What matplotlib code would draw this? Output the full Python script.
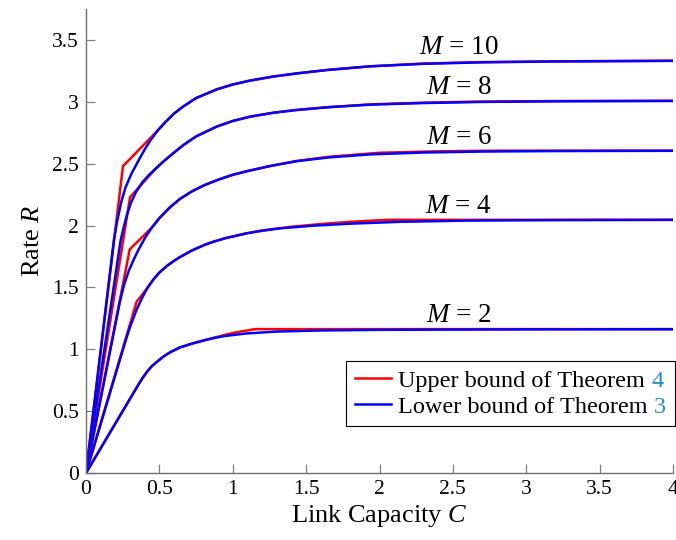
import matplotlib
matplotlib.use('Agg')
import matplotlib.pyplot as plt
from matplotlib.transforms import IdentityTransform

plt.rcParams['font.family'] = ['Liberation Serif', 'DejaVu Serif']
plt.rcParams['mathtext.fontset'] = 'custom'
plt.rcParams['mathtext.rm'] = 'Liberation Serif'
plt.rcParams['mathtext.it'] = 'Liberation Serif:italic'

# lower bound (blue) curves
lo_x_10 = [0, 0.19, 0.21, 0.24, 0.27, 0.31, 0.36, 0.40, 0.44, 0.49, 0.54, 0.60, 0.66, 0.75, 0.89,
           1.0, 1.12, 1.28, 1.44, 1.65, 1.94, 2.3, 2.7, 3.2, 4.0]
lo_y_10 = [0, 1.88, 2.02, 2.19, 2.31, 2.42, 2.53, 2.615, 2.69, 2.77, 2.835, 2.905, 2.96, 3.03, 3.10,
           3.14, 3.172, 3.205, 3.23, 3.258, 3.287, 3.307, 3.319, 3.326, 3.331]
lo_x_8 = [0, 0.236, 0.26, 0.28, 0.305, 0.34, 0.384, 0.43, 0.475, 0.53, 0.59, 0.663, 0.75, 0.891,
          1.0, 1.118, 1.28, 1.436, 1.65, 1.936, 2.3, 2.7, 3.2, 4.0]
lo_y_8 = [0, 1.88, 2.0, 2.09, 2.18, 2.27, 2.35, 2.41, 2.46, 2.52, 2.58, 2.65, 2.72, 2.80,
          2.845, 2.88, 2.912, 2.934, 2.956, 2.977, 2.99, 2.999, 3.004, 3.007]
lo_x_6 = [0, 0.23, 0.259, 0.29, 0.327, 0.36, 0.407, 0.45, 0.5, 0.57, 0.64, 0.72, 0.804, 0.9,
          1.0, 1.1, 1.25, 1.436, 1.65, 1.936, 2.3, 2.7, 3.2, 4.0]
lo_y_6 = [0, 1.38, 1.52, 1.63, 1.73, 1.81, 1.91, 1.985, 2.06, 2.145, 2.215, 2.275, 2.325, 2.37,
          2.41, 2.44, 2.48, 2.52, 2.55, 2.575, 2.59, 2.598, 2.602, 2.604]
lo_x_4 = [0, 0.27, 0.3, 0.345, 0.38, 0.418, 0.46, 0.5, 0.55, 0.6, 0.64, 0.72, 0.804, 0.868, 0.95,
          1.095, 1.2, 1.32, 1.55, 1.8, 2.14, 2.6, 3.2, 4.0]
lo_y_4 = [0, 1.07, 1.18, 1.32, 1.41, 1.495, 1.565, 1.62, 1.672, 1.715, 1.745, 1.797, 1.842, 1.869, 1.898,
          1.937, 1.958, 1.977, 1.999, 2.015, 2.03, 2.04, 2.044, 2.046]
lo_x_2 = [0, 0.36, 0.39, 0.42, 0.45, 0.49, 0.532, 0.58, 0.641, 0.72, 0.804, 0.868, 0.95, 1.095,
          1.3, 1.6, 2.0, 3.0, 4.0]
lo_y_2 = [0, 0.72, 0.775, 0.825, 0.865, 0.905, 0.945, 0.98, 1.015, 1.045, 1.072, 1.09, 1.108, 1.128,
          1.143, 1.152, 1.157, 1.161, 1.162]

# upper bound (red) curves: own points where they leave the blue ones
up_x_10 = [0, 0.252, 0.49, 0.54, 0.60, 0.66, 0.75, 0.89, 1.0, 1.12, 1.28, 1.44, 1.65, 1.94, 2.3, 2.7, 3.2, 4.0]
up_y_10 = [0, 2.48, 2.77, 2.835, 2.905, 2.96, 3.03, 3.10, 3.14, 3.172, 3.205, 3.23, 3.258, 3.287, 3.309, 3.321, 3.327, 3.332]
up_x_8 = [0, 0.30, 0.475, 0.53, 0.59, 0.663, 0.75, 0.891, 1.0, 1.118, 1.28, 1.436, 1.65, 1.936, 2.3, 2.7, 3.2, 4.0]
up_y_8 = [0, 2.228, 2.46, 2.52, 2.58, 2.65, 2.72, 2.80, 2.845, 2.88, 2.912, 2.934, 2.957, 2.979, 2.993, 3.002, 3.006, 3.008]
up_x_6 = [0, 0.298, 0.45, 0.5, 0.57, 0.64, 0.72, 0.804, 0.9, 1.0, 1.1, 1.25, 1.436, 1.65, 2.0, 2.4, 2.8, 4.0]
up_y_6 = [0, 1.807, 1.985, 2.06, 2.145, 2.215, 2.275, 2.325, 2.37, 2.41, 2.44, 2.48, 2.522, 2.555, 2.588, 2.6, 2.605, 2.605]
up_x_4 = [0, 0.345, 0.418, 0.46, 0.5, 0.55, 0.6, 0.64, 0.72, 0.804, 0.868, 0.95, 1.095, 1.2, 1.4, 1.6, 1.8, 2.05, 4.0]
up_y_4 = [0, 1.384, 1.495, 1.565, 1.62, 1.672, 1.715, 1.745, 1.797, 1.842, 1.869, 1.898, 1.937, 1.96, 1.99, 2.012, 2.03, 2.046, 2.046]
up_x_2 = [0, 0.36, 0.39, 0.42, 0.45, 0.49, 0.532, 0.58, 0.641, 0.72, 0.804, 0.868, 1.0, 1.152, 4.0]
up_y_2 = [0, 0.72, 0.775, 0.825, 0.865, 0.905, 0.945, 0.98, 1.015, 1.045, 1.072, 1.092, 1.132, 1.163, 1.163]

m_values = [10, 8, 6, 4, 2]
label_y = [3.331, 3.007, 2.604, 2.046, 1.163]
xticks = [0, 0.5, 1, 1.5, 2, 2.5, 3, 3.5, 4]
yticks = [0, 0.5, 1, 1.5, 2, 2.5, 3, 3.5]

uppers = [(up_x_10, up_y_10), (up_x_8, up_y_8), (up_x_6, up_y_6), (up_x_4, up_y_4), (up_x_2, up_y_2)]
lowers = [(lo_x_10, lo_y_10), (lo_x_8, lo_y_8), (lo_x_6, lo_y_6), (lo_x_4, lo_y_4), (lo_x_2, lo_y_2)]

fig = plt.figure(figsize=(6.76, 5.4), dpi=100)
ax = fig.add_axes([86/676, 1 - 473/540, 587/676, 464/540])

for i, ((ux, uy), (lx, ly)) in enumerate(zip(uppers, lowers)):
    ax.plot(ux, uy, color='#ff0000', lw=1.8, solid_joinstyle='miter',
            label='Upper bound of Theorem 4' if i == 0 else None)
    ax.plot(lx, ly, color='#0000ff', lw=1.8,
            label='Lower bound of Theorem 3' if i == 0 else None)

for m, yv in zip(m_values, label_y):
    ax.text(2.54, yv + 0.055, '$M$ = %d' % m, ha='center', va='baseline', fontsize=19.5)

ax.set_xlim(0, 4)
ax.set_ylim(0, 3.75)
ax.set_xticks(xticks)
ax.set_yticks(yticks)
ax.set_xticklabels(['%g' % t for t in xticks])
ax.set_yticklabels(['%g' % t for t in yticks])
ax.tick_params(direction='in', length=6.5, width=0.9, color='#808080', labelsize=15.5, pad=5)
for s in ['top', 'right']:
    ax.spines[s].set_visible(False)
for s in ['left', 'bottom']:
    ax.spines[s].set_color('#707070')
    ax.spines[s].set_linewidth(1.0)
ax.set_xlabel('Link Capacity $C$', fontsize=19, labelpad=3)
ax.set_ylabel('Rate $R$', fontsize=19, labelpad=6)

leg = ax.legend(loc='lower right', bbox_to_anchor=(1.003, 0.101), borderaxespad=0, fontsize=17.5,
                frameon=True, fancybox=False, edgecolor='black', framealpha=1,
                handlelength=1.5, handletextpad=0.3, labelspacing=0.15, borderpad=0.35)
leg.get_frame().set_linewidth(0.8)

# colour the theorem numbers like hyperref links
fig.canvas.draw()
for t in leg.get_texts():
    full = t.get_text()
    prefix, num = full.rsplit(' ', 1)
    bb = t.get_window_extent()
    x0, y0 = t.get_transform().transform(t.get_position())
    t.set_alpha(0)
    fig.text(x0, y0, prefix, transform=IdentityTransform(), ha='left', va='baseline',
             fontsize=17.5, color='black')
    fig.text(bb.x1, y0, num, transform=IdentityTransform(), ha='right', va='baseline',
             fontsize=17.5, color='#2a8ac8')

fig.savefig('out.png', dpi=100)
